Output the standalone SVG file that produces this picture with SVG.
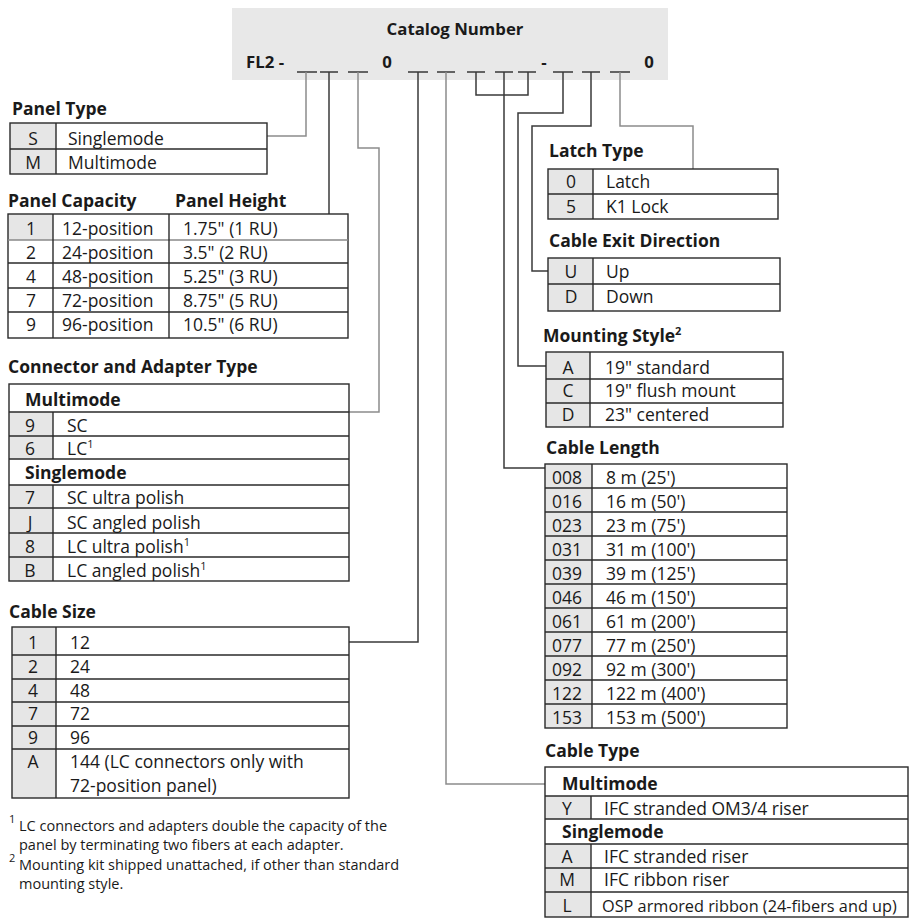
<svg xmlns="http://www.w3.org/2000/svg" width="909" height="918" viewBox="0 0 909 918">
<style>
text{font-family:"Open Sans","Noto Sans","Liberation Sans",sans-serif;font-size:17.5px;fill:#1a1a1a}
.h{font-weight:bold}
.m{text-anchor:middle}
.hd{font-size:16.8px}
.fn{font-size:14.5px}
.sup{font-size:11px}
.osp{font-size:16.3px}
.code{fill:#e6e6e6;stroke:none}
.box{fill:none;stroke:#2a2a2a;stroke-width:1.4}
.ln{stroke:#2a2a2a;stroke-width:1.4}
.cd{fill:none;stroke:#3a3a3a;stroke-width:1.5}
.cg{fill:none;stroke:#8c8c8c;stroke-width:1.5}
</style>
<rect width="909" height="918" fill="#fff"/>

<g id="header">
<rect x="232" y="8" width="436" height="72" fill="#e8e8e8"/>
<text class="h m hd" x="455" y="35">Catalog Number</text>
<text class="h hd" x="246" y="68">FL2 -</text>
<text class="h m hd" x="387" y="68">0</text>
<text class="h m hd" x="544" y="68">-</text>
<text class="h m hd" x="649" y="68">0</text>
<g stroke="#2a2a2a" stroke-width="1.4">
<line x1="297" y1="72" x2="317" y2="72"/>
<line x1="320" y1="72" x2="338" y2="72"/>
<line x1="348" y1="72" x2="368" y2="72"/>
<line x1="408" y1="72" x2="428" y2="72"/>
<line x1="437" y1="72" x2="455" y2="72"/>
<line x1="467" y1="72" x2="485" y2="72"/>
<line x1="495" y1="72" x2="513" y2="72"/>
<line x1="518" y1="72" x2="536" y2="72"/>
<line x1="553" y1="72" x2="573" y2="72"/>
<line x1="582" y1="72" x2="600" y2="72"/>
<line x1="610" y1="72" x2="630" y2="72"/>
</g>
</g>

<g id="connectors">
<polyline class="cg" points="306,72 306,136 267,136"/>
<polyline class="cd" points="329,72 329,214"/>
<polyline class="cg" points="358,72 358,148 379,148 379,412 349,412"/>
<polyline class="cd" points="418,72 418,642 349,642"/>
<polyline class="cg" points="446,72 446,784 545,784"/>
<polyline class="cd" points="476,72 476,95 528,95 528,72"/>
<polyline class="cd" points="504,72 504,468 545,468"/>
<polyline class="cd" points="563,72 563,113 518,113 518,366 546,366"/>
<polyline class="cd" points="591,72 591,126 532,126 532,271 548,271"/>
<polyline class="cg" points="620,72 620,126 693,126 693,169"/>
</g>

<g id="panel-type">
<text class="h" x="12" y="115">Panel Type</text>
<rect class="code" x="10" y="123" width="46" height="51"/>
<rect class="box" x="10" y="123" width="257" height="51"/>
<line class="ln" x1="10" y1="149" x2="267" y2="149"/>
<line class="ln" x1="56" y1="123" x2="56" y2="174"/>
<text class="m" x="33" y="145">S</text><text x="68" y="145">Singlemode</text>
<text class="m" x="33" y="169">M</text><text x="68" y="169">Multimode</text>
</g>

<g id="panel-capacity">
<text class="h" x="8" y="207">Panel Capacity</text>
<text class="h" x="175" y="207">Panel Height</text>
<rect class="code" x="8" y="214" width="45" height="26"/>
<rect class="box" x="8" y="214" width="340" height="124"/>
<line x1="8" y1="240" x2="348" y2="240" stroke="#888" stroke-width="1.4"/>
<line class="ln" x1="8" y1="263" x2="348" y2="263"/>
<line class="ln" x1="8" y1="288" x2="348" y2="288"/>
<line class="ln" x1="8" y1="312" x2="348" y2="312"/>
<line class="ln" x1="53" y1="214" x2="53" y2="338"/>
<line class="ln" x1="169" y1="214" x2="169" y2="338"/>
<text class="m" x="31" y="235">1</text><text x="62" y="235">12-position</text><text x="183" y="235">1.75" (1 RU)</text>
<text class="m" x="31" y="259">2</text><text x="62" y="259">24-position</text><text x="183" y="259">3.5" (2 RU)</text>
<text class="m" x="31" y="283">4</text><text x="62" y="283">48-position</text><text x="183" y="283">5.25" (3 RU)</text>
<text class="m" x="31" y="307">7</text><text x="62" y="307">72-position</text><text x="183" y="307">8.75" (5 RU)</text>
<text class="m" x="31" y="331">9</text><text x="62" y="331">96-position</text><text x="183" y="331">10.5" (6 RU)</text>
</g>

<g id="connector-type">
<text class="h" x="8" y="373">Connector and Adapter Type</text>
<rect class="code" x="9" y="412" width="44" height="47"/>
<rect class="code" x="9" y="485" width="44" height="96"/>
<rect class="box" x="9" y="384" width="340" height="197"/>
<line class="ln" x1="9" y1="412" x2="349" y2="412"/>
<line class="ln" x1="9" y1="436" x2="349" y2="436"/>
<line class="ln" x1="9" y1="459" x2="349" y2="459"/>
<line class="ln" x1="9" y1="485" x2="349" y2="485"/>
<line class="ln" x1="9" y1="508" x2="349" y2="508"/>
<line class="ln" x1="9" y1="533" x2="349" y2="533"/>
<line class="ln" x1="9" y1="557" x2="349" y2="557"/>
<line class="ln" x1="53" y1="412" x2="53" y2="459"/>
<line class="ln" x1="53" y1="485" x2="53" y2="581"/>
<text class="h" x="25" y="406">Multimode</text>
<text class="m" x="30" y="432">9</text><text x="67" y="432">SC</text>
<text class="m" x="30" y="455">6</text><text x="67" y="455">LC<tspan class="sup" dy="-7">1</tspan></text>
<text class="h" x="25" y="479">Singlemode</text>
<text class="m" x="30" y="504">7</text><text x="67" y="504">SC ultra polish</text>
<text class="m" x="30" y="529">J</text><text x="67" y="529">SC angled polish</text>
<text class="m" x="30" y="553">8</text><text x="67" y="553">LC ultra polish<tspan class="sup" dy="-7">1</tspan></text>
<text class="m" x="30" y="577">B</text><text x="67" y="577">LC angled polish<tspan class="sup" dy="-7">1</tspan></text>
</g>

<g id="cable-size">
<text class="h" x="9" y="618">Cable Size</text>
<rect class="code" x="12" y="627" width="44" height="171"/>
<rect class="box" x="12" y="627" width="337" height="171"/>
<line class="ln" x1="12" y1="655" x2="349" y2="655"/>
<line class="ln" x1="12" y1="679" x2="349" y2="679"/>
<line class="ln" x1="12" y1="702" x2="349" y2="702"/>
<line class="ln" x1="12" y1="726" x2="349" y2="726"/>
<line class="ln" x1="12" y1="749" x2="349" y2="749"/>
<line class="ln" x1="56" y1="627" x2="56" y2="798"/>
<text class="m" x="33" y="649">1</text><text x="70" y="649">12</text>
<text class="m" x="33" y="673">2</text><text x="70" y="673">24</text>
<text class="m" x="33" y="697">4</text><text x="70" y="697">48</text>
<text class="m" x="33" y="720">7</text><text x="70" y="720">72</text>
<text class="m" x="33" y="744">9</text><text x="70" y="744">96</text>
<text class="m" x="33" y="768">A</text><text x="70" y="768">144 (LC connectors only with</text>
<text x="70" y="792">72-position panel)</text>
</g>

<g id="footnotes">
<text class="sup" x="9" y="823">1</text>
<text class="fn" x="19" y="831">LC connectors and adapters double the capacity of the</text>
<text class="fn" x="19" y="850">panel by terminating two fibers at each adapter.</text>
<text class="sup" x="9" y="862">2</text>
<text class="fn" x="19" y="870">Mounting kit shipped unattached, if other than standard</text>
<text class="fn" x="19" y="889">mounting style.</text>
</g>

<g id="latch-type">
<text class="h" x="549" y="157">Latch Type</text>
<rect class="code" x="548" y="169" width="45" height="50"/>
<rect class="box" x="548" y="169" width="230" height="50"/>
<line class="ln" x1="548" y1="194" x2="778" y2="194"/>
<line class="ln" x1="593" y1="169" x2="593" y2="219"/>
<text class="m" x="571" y="188">0</text><text x="606" y="188">Latch</text>
<text class="m" x="571" y="213">5</text><text x="606" y="213">K1 Lock</text>
</g>

<g id="cable-exit">
<text class="h" x="549" y="247">Cable Exit Direction</text>
<rect class="code" x="548" y="258" width="45" height="53"/>
<rect class="box" x="548" y="258" width="232" height="53"/>
<line class="ln" x1="548" y1="284" x2="780" y2="284"/>
<line class="ln" x1="593" y1="258" x2="593" y2="311"/>
<text class="m" x="571" y="278">U</text><text x="606" y="278">Up</text>
<text class="m" x="571" y="303">D</text><text x="606" y="303">Down</text>
</g>

<g id="mounting-style">
<text class="h" x="543" y="342">Mounting Style<tspan class="sup" dy="-7">2</tspan></text>
<rect class="code" x="546" y="352" width="44" height="75"/>
<rect class="box" x="546" y="352" width="237" height="75"/>
<line class="ln" x1="546" y1="379" x2="783" y2="379"/>
<line class="ln" x1="546" y1="403" x2="783" y2="403"/>
<line class="ln" x1="590" y1="352" x2="590" y2="427"/>
<text class="m" x="568" y="374">A</text><text x="605" y="374">19" standard</text>
<text class="m" x="568" y="397">C</text><text x="605" y="397">19" flush mount</text>
<text class="m" x="568" y="421">D</text><text x="605" y="421">23" centered</text>
</g>

<g id="cable-length">
<text class="h" x="546" y="454">Cable Length</text>
<rect class="code" x="545" y="464" width="47" height="264"/>
<rect class="box" x="545" y="464" width="242" height="264"/>
<g class="ln">
<line x1="545" y1="488" x2="787" y2="488"/>
<line x1="545" y1="512" x2="787" y2="512"/>
<line x1="545" y1="536" x2="787" y2="536"/>
<line x1="545" y1="560" x2="787" y2="560"/>
<line x1="545" y1="584" x2="787" y2="584"/>
<line x1="545" y1="608" x2="787" y2="608"/>
<line x1="545" y1="632" x2="787" y2="632"/>
<line x1="545" y1="656" x2="787" y2="656"/>
<line x1="545" y1="680" x2="787" y2="680"/>
<line x1="545" y1="704" x2="787" y2="704"/>
<line x1="592" y1="464" x2="592" y2="728"/>
</g>
<text x="552" y="484">008</text><text x="606" y="484">8 m (25')</text>
<text x="552" y="508">016</text><text x="606" y="508">16 m (50')</text>
<text x="552" y="532">023</text><text x="606" y="532">23 m (75')</text>
<text x="552" y="556">031</text><text x="606" y="556">31 m (100')</text>
<text x="552" y="580">039</text><text x="606" y="580">39 m (125')</text>
<text x="552" y="604">046</text><text x="606" y="604">46 m (150')</text>
<text x="552" y="628">061</text><text x="606" y="628">61 m (200')</text>
<text x="552" y="652">077</text><text x="606" y="652">77 m (250')</text>
<text x="552" y="676">092</text><text x="606" y="676">92 m (300')</text>
<text x="552" y="700">122</text><text x="606" y="700">122 m (400')</text>
<text x="552" y="724">153</text><text x="606" y="724">153 m (500')</text>
</g>

<g id="cable-type">
<text class="h" x="545" y="757">Cable Type</text>
<rect class="code" x="545" y="796" width="46" height="23"/>
<rect class="code" x="545" y="844" width="46" height="73"/>
<rect class="box" x="545" y="767" width="363" height="150"/>
<line class="ln" x1="545" y1="796" x2="908" y2="796"/>
<line class="ln" x1="545" y1="819" x2="908" y2="819"/>
<line class="ln" x1="545" y1="844" x2="908" y2="844"/>
<line class="ln" x1="545" y1="868" x2="908" y2="868"/>
<line class="ln" x1="545" y1="892" x2="908" y2="892"/>
<line class="ln" x1="591" y1="796" x2="591" y2="819"/>
<line class="ln" x1="591" y1="844" x2="591" y2="917"/>
<text class="h" x="562" y="790">Multimode</text>
<text class="m" x="567" y="815">Y</text><text x="604" y="815">IFC stranded OM3/4 riser</text>
<text class="h" x="562" y="838">Singlemode</text>
<text class="m" x="567" y="863">A</text><text x="604" y="863">IFC stranded riser</text>
<text class="m" x="567" y="886">M</text><text x="604" y="886">IFC ribbon riser</text>
<text class="m" x="567" y="912">L</text><text class="osp" x="602" y="912">OSP armored ribbon (24-fibers and up)</text>
</g>
</svg>
